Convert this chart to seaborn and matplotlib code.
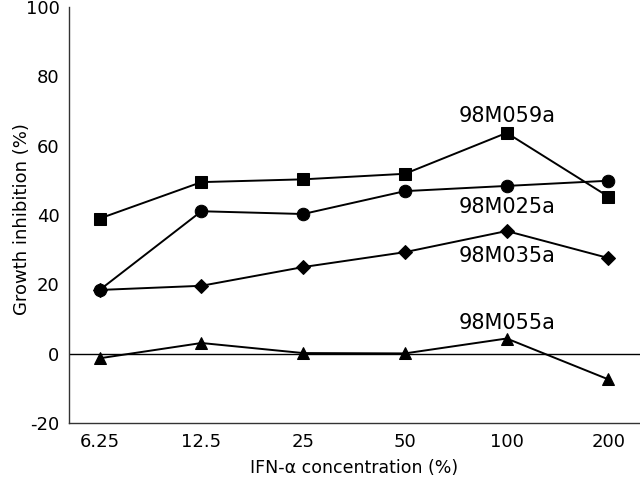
import matplotlib
matplotlib.use("Agg")
import matplotlib.pyplot as plt
import seaborn as sns
import pandas as pd

concentrations = ["6.25", "12.5", "25", "50", "100", "200"]
s059 = [39, 49.5, 50.3, 51.9, 63.7, 45.3]
s025 = [18.4, 41.1, 40.3, 46.9, 48.4, 49.9]
s035 = [18.4, 19.6, 25.0, 29.3, 35.4, 27.6]
s055 = [-1.3, 3.1, 0.2, 0.1, 4.4, -7.4]
series_names = ["98M059a", "98M025a", "98M035a", "98M055a"]
series_values = [s059, s025, s035, s055]
markers = {"98M059a": "s", "98M025a": "o", "98M035a": "D", "98M055a": "^"}
msizes = {"98M059a": 8, "98M025a": 9, "98M035a": 7.5, "98M055a": 8.5}

rows = []
for name, vals in zip(series_names, series_values):
    for i, (c, v) in enumerate(zip(concentrations, vals)):
        rows.append({"pos": i, "conc": c, "value": v, "series": name})
df = pd.DataFrame(rows)

sns.set_style("white")
plt.rcParams["font.family"] = ["DejaVu Sans"]
plt.rcParams["axes.unicode_minus"] = False

fig = plt.figure(figsize=(6.4, 4.83), dpi=100)
ax = fig.add_axes([0.108, 0.124, 0.892, 0.8615])

ax.axhline(0, color="black", lw=1.0, zorder=1)

for name in series_names:
    sub = df[df["series"] == name]
    sns.lineplot(data=sub, x="pos", y="value", ax=ax, color="black",
                 lw=1.4, marker=markers[name], markersize=msizes[name],
                 markeredgecolor="black", markerfacecolor="black",
                 sort=False, legend=False, zorder=3)

# series labels near the 100% concentration point
label_offsets = {"98M059a": 4.8, "98M025a": -6.1, "98M035a": -7.1, "98M055a": 4.5}
for name, vals in zip(series_names, series_values):
    ax.text(4, vals[4] + label_offsets[name], name, ha="center", va="center",
            fontsize=15, color="black")

ax.set_xlim(-0.3, 5.31)
ax.set_ylim(-20, 100)
ax.set_xticks(range(len(concentrations)))
ax.set_xticklabels(concentrations)
ax.set_yticks([-20, 0, 20, 40, 60, 80, 100])

for sp in ["top", "right"]:
    ax.spines[sp].set_visible(False)
for sp in ["left", "bottom"]:
    ax.spines[sp].set_color("#333333")
    ax.spines[sp].set_linewidth(1.0)

ax.tick_params(axis="y", direction="in", length=10, width=1, colors="#333333",
               labelcolor="black", labelsize=13, pad=7)
ax.tick_params(axis="x", direction="in", length=11, width=1, colors="#333333",
               labelcolor="black", labelsize=13, pad=7)

ax.set_xlabel("IFN-α concentration (%)", fontsize=12.5, labelpad=6, color="black")
ax.set_ylabel("Growth inhibition (%)", fontsize=13, color="black")
ax.yaxis.set_label_coords(-0.066, 0.49)

fig.savefig("out.png", dpi=100)
